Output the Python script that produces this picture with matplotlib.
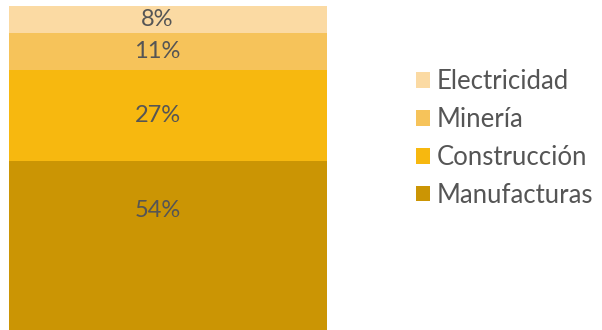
import matplotlib.pyplot as plt
from matplotlib.patches import Patch

sectores = ['Manufacturas', 'Construcción', 'Minería', 'Electricidad']
valores = [54, 27, 11, 8]
colores = ['#CB9504', '#F7B80F', '#F6C35A', '#FBDAA3']
gris = '#555555'

plt.rcParams['font.family'] = ['Lato', 'DejaVu Sans']

fig = plt.figure(figsize=(6.02, 3.30), dpi=100)
ax = fig.add_axes([9 / 602, 0, 318 / 602, 324 / 330])
ymin = 4

abajo = 0
for nombre, v, c in zip(sectores, valores, colores):
    ax.bar(0, v, bottom=abajo, width=1, color=c, edgecolor='none')
    # el segmento de abajo está recortado: etiqueta cerca de su parte alta
    yt = abajo + v / 2 if abajo > ymin else abajo + v - 14.5
    ax.text(-0.033, yt, '{}%'.format(v), ha='center', va='center',
            fontsize=17, color=gris)
    abajo += v

ax.set_xlim(-0.5, 0.5)
ax.set_ylim(ymin, 100)
ax.axis('off')

handles = [Patch(facecolor=c, edgecolor='none') for c in colores][::-1]
fig.legend(handles, sectores[::-1], loc='upper left', bbox_to_anchor=(406 / 602, 1 - 59 / 330),
           frameon=False, fontsize=18.5, labelcolor=gris, handlelength=0.55, handleheight=0.55,
           handletextpad=0.25, labelspacing=0.5, borderaxespad=0)

fig.savefig('out.png', dpi=100)
